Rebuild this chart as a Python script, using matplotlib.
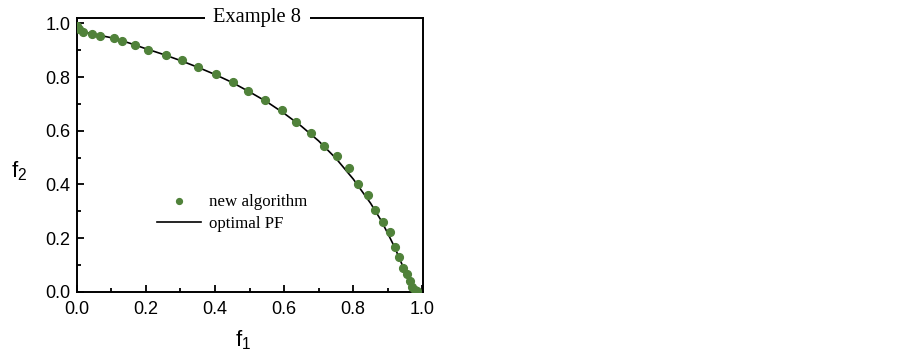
import matplotlib
matplotlib.use("Agg")
import matplotlib.pyplot as plt
from matplotlib.ticker import MultipleLocator

plt.rcParams['mathtext.fontset'] = 'custom'
plt.rcParams['mathtext.rm'] = 'Liberation Sans'
plt.rcParams['mathtext.it'] = 'Liberation Sans'

# new algorithm (points)
alg_f1 = [0.001, 0.008, 0.018, 0.043, 0.067, 0.109, 0.131, 0.170, 0.207, 0.257,
          0.305, 0.350, 0.403, 0.452, 0.496, 0.546, 0.594, 0.634, 0.677, 0.715,
          0.754, 0.788, 0.814, 0.842, 0.864, 0.885, 0.905, 0.920, 0.933, 0.945,
          0.956, 0.965, 0.971, 0.978, 0.985]
alg_f2 = [0.990, 0.978, 0.969, 0.962, 0.955, 0.945, 0.933, 0.919, 0.902, 0.884,
          0.862, 0.837, 0.812, 0.782, 0.748, 0.714, 0.677, 0.632, 0.591, 0.545,
          0.507, 0.462, 0.402, 0.361, 0.304, 0.258, 0.222, 0.168, 0.130, 0.090,
          0.066, 0.041, 0.016, 0.006, 0.001]

# optimal PF (line)
pf_f1 = [0.0, 0.01, 0.02, 0.05, 0.10, 0.15, 0.20, 0.25, 0.30, 0.35, 0.40, 0.45,
         0.50, 0.55, 0.60, 0.65, 0.70, 0.75, 0.80, 0.85, 0.88, 0.90, 0.92, 0.94,
         0.96, 0.975, 0.988]
pf_f2 = [0.99, 0.975, 0.968, 0.960, 0.947, 0.928, 0.906, 0.885, 0.862, 0.837,
         0.810, 0.780, 0.745, 0.708, 0.665, 0.617, 0.562, 0.497, 0.420, 0.330,
         0.267, 0.217, 0.165, 0.105, 0.045, 0.012, 0.0]

fig = plt.figure(figsize=(9.03, 3.57), dpi=100)
ax = fig.add_axes([0.0849, 0.183, 0.384, 0.767])

green = '#50823a'
ax.plot(pf_f1, pf_f2, color='black', lw=1.2, label='optimal PF', zorder=2)
ax.plot(alg_f1, alg_f2, 'o', color=green, ms=5.6, mec=green, label='new algorithm', zorder=3)

ax.set_xlim(0, 1.003)
ax.set_ylim(0, 1.021)
ax.xaxis.set_major_locator(MultipleLocator(0.2))
ax.xaxis.set_minor_locator(MultipleLocator(0.1))
ax.yaxis.set_major_locator(MultipleLocator(0.2))
ax.yaxis.set_minor_locator(MultipleLocator(0.1))
ax.xaxis.set_major_formatter(matplotlib.ticker.FormatStrFormatter('%.1f'))
ax.yaxis.set_major_formatter(matplotlib.ticker.FormatStrFormatter('%.1f'))
ax.tick_params(which='both', direction='in', top=False, right=False, width=1.3)
ax.tick_params(which='major', length=5, labelsize=13)
ax.tick_params(which='minor', length=3)
ax.tick_params(axis='x', pad=6.5)
ax.tick_params(axis='y', pad=4.5)
for lab in ax.get_xticklabels() + ax.get_yticklabels():
    lab.set_fontfamily('Liberation Sans')
for s in ax.spines.values():
    s.set_linewidth(1.4)

ax.set_xlabel('f$_1$', fontsize=16, family='Liberation Sans')
ax.xaxis.set_label_coords((243 - 76.7) / 346.8, (291.7 - 328) / 273.8)
ax.set_ylabel('f$_2$', fontsize=16, family='Liberation Sans', rotation=0, ha='center', va='center')
ax.yaxis.set_label_coords((19 - 76.7) / 346.8, (291.7 - 171) / 273.8)

ax.text(0.521, 1.0, 'Example 8', transform=ax.transAxes, ha='center', va='center',
        fontsize=14.8, family='Liberation Serif',
        bbox=dict(facecolor='white', edgecolor='none', pad=6), zorder=5)

handles, labels = ax.get_legend_handles_labels()
leg = ax.legend(handles[::-1], labels[::-1], loc='upper left', bbox_to_anchor=(0.232, 0.355),
                frameon=False, prop={'family': 'Liberation Serif', 'size': 12.2},
                handlelength=2.6, handletextpad=0.45, labelspacing=0.35,
                borderpad=0, borderaxespad=0, markerscale=0.75)

fig.savefig('out.png', dpi=100, facecolor='white')
